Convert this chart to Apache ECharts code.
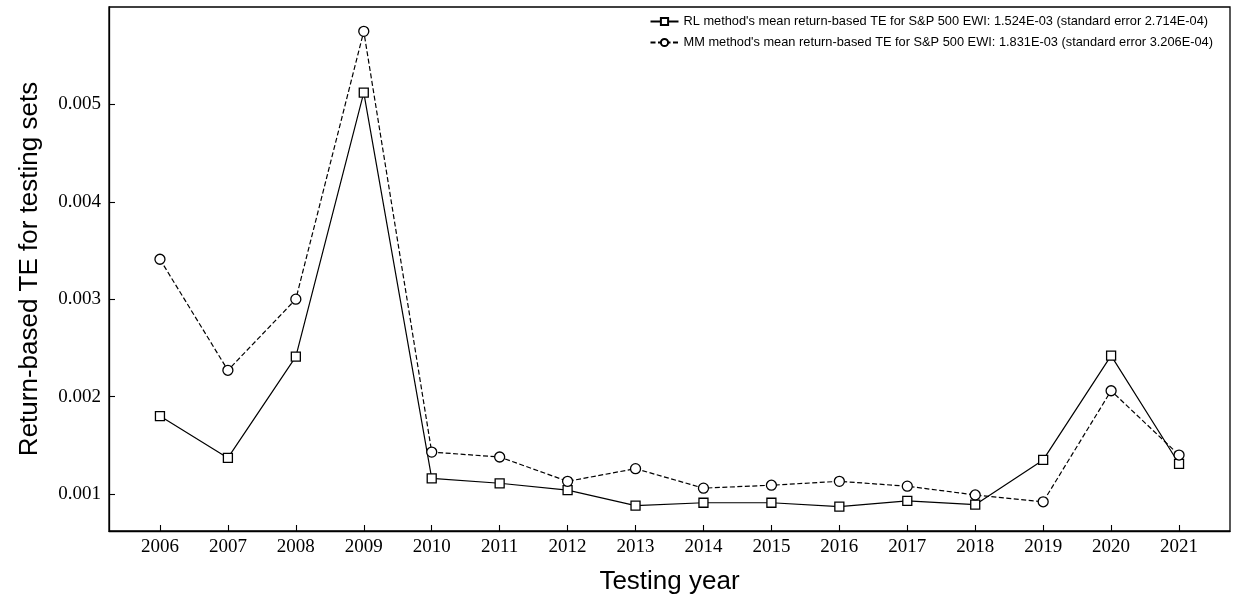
<!DOCTYPE html>
<html><head><meta charset="utf-8">
<script src="https://cdn.jsdelivr.net/npm/echarts@6/dist/echarts.min.js"></script>
<style>html,body{margin:0;padding:0;background:#fff}#c{width:1238px;height:599px}</style>
</head><body><div id="c"></div>
<script>
const years = [2006,2007,2008,2009,2010,2011,2012,2013,2014,2015,2016,2017,2018,2019,2020,2021];
const rlValues = [0.00180,0.00137,0.00241,0.00512,0.00116,0.00111,0.00104,0.00088,0.00091,0.00091,0.00087,0.00093,0.00089,0.00135,0.00242,0.00131];
const mmValues = [0.00341,0.00227,0.00300,0.00575,0.00143,0.00138,0.00113,0.00126,0.00106,0.00109,0.00113,0.00108,0.00099,0.00092,0.00206,0.00140];
const yTicks = [0.001,0.002,0.003,0.004,0.005];
const rlName = "RL method's mean return-based TE for S&P 500 EWI: 1.524E-03 (standard error 2.714E-04)";
const mmName = "MM method's mean return-based TE for S&P 500 EWI: 1.831E-03 (standard error 3.206E-04)";

const chart = echarts.init(document.getElementById('c'), null, {renderer:'canvas'});
const serif = "'Liberation Serif','DejaVu Serif',serif";
const sans = "'Liberation Sans','DejaVu Sans',Arial,sans-serif";
chart.setOption({
  animation:false,
  backgroundColor:'#fff',
  grid:{left:109,right:8,top:7,bottom:68,show:true,borderColor:'#000',borderWidth:1.3,
        containLabel:false,outerBoundsMode:'none'},
  legend:{
    orient:'vertical',right:20,top:10,itemWidth:28,itemHeight:9,itemGap:8,
    textStyle:{fontFamily:sans,fontSize:12.8,color:'#000'},
    data:[rlName,mmName]
  },
  xAxis:{
    type:'value',min:2005.25,max:2021.75,
    name:'Testing year',nameLocation:'middle',nameGap:38,
    nameTextStyle:{fontFamily:sans,fontSize:26,color:'#000'},
    axisLine:{show:true,onZero:false,lineStyle:{color:'#000',width:1.3}},
    axisTick:{show:true,inside:true,length:6,customValues:years,lineStyle:{color:'#000',width:1.1}},
    axisLabel:{customValues:years,fontFamily:serif,fontSize:19,color:'#000',margin:7,formatter:v=>String(v)},
    splitLine:{show:false}
  },
  yAxis:{
    type:'value',min:0.00062,max:0.006,
    name:'Return-based TE for testing sets',nameLocation:'middle',nameGap:66,
    nameTextStyle:{fontFamily:sans,fontSize:26,color:'#000'},
    axisLine:{show:true,onZero:false,lineStyle:{color:'#000',width:1.3}},
    axisTick:{show:true,inside:true,length:6,customValues:yTicks,lineStyle:{color:'#000',width:1.1}},
    axisLabel:{customValues:yTicks,fontFamily:serif,fontSize:19,color:'#000',margin:8,formatter:v=>v.toFixed(3)},
    splitLine:{show:false}
  },
  series:[
    {name:rlName,type:'line',data:years.map((y,i)=>[y,rlValues[i]]),
     symbol:'rect',symbolSize:9,showAllSymbol:true,
     lineStyle:{color:'#000',width:1.2,type:'solid'},
     itemStyle:{color:'#fff',borderColor:'#000',borderWidth:1.3}},
    {name:mmName,type:'line',data:years.map((y,i)=>[y,mmValues[i]]),
     symbol:'circle',symbolSize:10,showAllSymbol:true,
     lineStyle:{color:'#000',width:1.2,type:[5,2.5]},
     itemStyle:{color:'#fff',borderColor:'#000',borderWidth:1.3}}
  ]
});
</script></body></html>
